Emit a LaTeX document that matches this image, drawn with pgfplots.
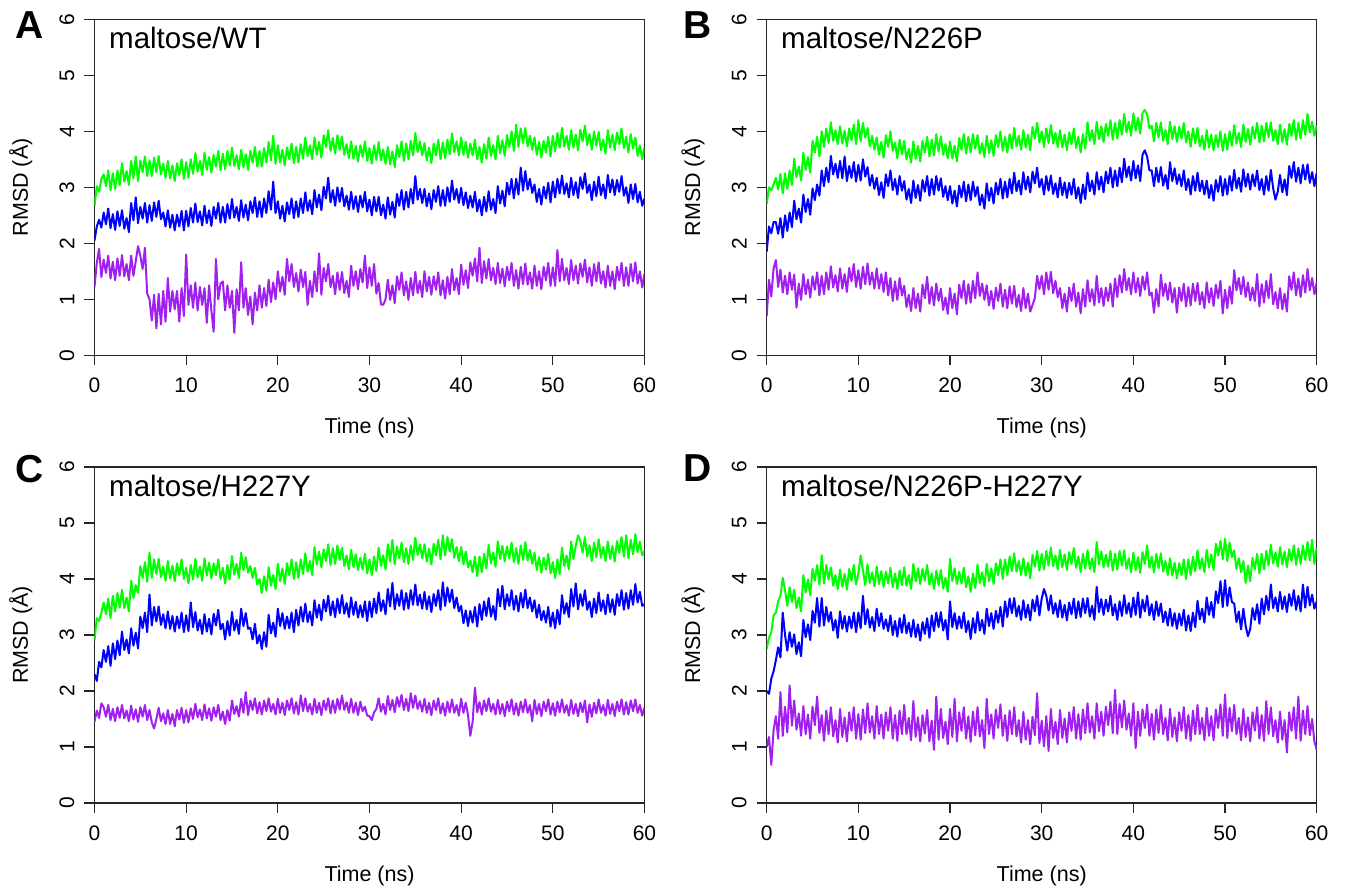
\documentclass[border=0pt]{standalone}
\usepackage{pgfplots}
\pgfplotsset{compat=1.18}
\usepackage{fontspec}
\setmainfont{Liberation Sans}

\definecolor{rgreen}{HTML}{00FF00}
\definecolor{rblue}{HTML}{0000FF}
\definecolor{rpurple}{HTML}{A020F0}

\pgfplotsset{
  rmsd/.style={
    width=550pt, height=336pt, scale only axis,
    xmin=0, xmax=60, ymin=0, ymax=6,
    xtick={0,10,...,60}, ytick={0,1,...,6},
    tick align=outside, major tick length=10pt,
    axis line style={line width=1.1pt, black!85},
    every tick/.style={line width=1.1pt, black!85},
    xtick pos=bottom, ytick pos=left,
    /pgf/number format/assume math mode=true,
    ticklabel style={font=\fontsize{21}{25}\selectfont, inner sep=0pt},
    xticklabel style={anchor=north, yshift=-12.5pt},
    yticklabel style={rotate=90, anchor=south},
    yticklabel shift=10pt,
    label style={font=\fontsize{21.5}{25}\selectfont},
    xlabel={Time (ns)}, ylabel={RMSD (Å)},
    xlabel style={at={(axis description cs:0.5,-0.234)}, anchor=base},
    ylabel style={at={(axis description cs:-0.121,0.5)}, rotate=0, anchor=base},
    every axis plot/.append style={line width=2pt, line join=round, no marks},
  },
  gr/.style={color=rgreen},
  bl/.style={color=rblue},
  pu/.style={color=rpurple},
}

\begin{document}
\begin{tikzpicture}
\path[use as bounding box] (0pt,0pt) rectangle (1345pt,886pt);

% ---------------- A: maltose/WT ----------------
\begin{axis}[rmsd, at={(94.5pt,530.7pt)}, anchor=south west]
\addplot[gr] table[x expr=\coordindex/4, y index=0, header=false, row sep=\\] {
2.66\\3.02\\2.92\\3.15\\ 3.23\\3.02\\3.30\\2.95\\ 3.25\\2.97\\3.30\\3.04\\ 3.43\\3.10\\3.29\\3.04\\
3.47\\3.16\\3.55\\3.11\\ 3.48\\3.27\\3.55\\3.20\\ 3.48\\3.20\\3.53\\3.27\\ 3.56\\3.23\\3.42\\3.17\\
3.47\\3.16\\3.39\\3.11\\ 3.43\\3.22\\3.50\\3.15\\ 3.45\\3.17\\3.50\\3.24\\ 3.61\\3.28\\3.47\\3.22\\
3.62\\3.31\\3.54\\3.26\\ 3.58\\3.37\\3.65\\3.30\\ 3.60\\3.32\\3.65\\3.39\\ 3.71\\3.38\\3.57\\3.32\\
3.67\\3.36\\3.59\\3.31\\ 3.65\\3.44\\3.72\\3.37\\ 3.65\\3.37\\3.70\\3.44\\ 3.81\\3.48\\3.92\\3.42\\
3.75\\3.44\\3.67\\3.39\\ 3.71\\3.50\\3.78\\3.43\\ 3.72\\3.44\\3.77\\3.51\\ 3.89\\3.56\\3.75\\3.50\\
3.89\\3.58\\3.81\\3.53\\ 3.93\\3.72\\4.02\\3.65\\ 3.88\\3.60\\3.93\\3.67\\ 3.91\\3.58\\3.77\\3.52\\
3.82\\3.51\\3.74\\3.46\\ 3.75\\3.54\\3.82\\3.47\\ 3.70\\3.42\\3.75\\3.49\\ 3.81\\3.48\\3.67\\3.42\\
3.72\\3.41\\3.64\\3.36\\ 3.75\\3.54\\3.82\\3.47\\ 3.78\\3.50\\3.83\\3.57\\ 3.97\\3.63\\3.82\\3.57\\
3.79\\3.48\\3.71\\3.43\\ 3.78\\3.57\\3.85\\3.50\\ 3.80\\3.52\\3.85\\3.59\\ 3.96\\3.63\\3.82\\3.57\\
3.89\\3.58\\3.81\\3.53\\ 3.78\\3.57\\3.85\\3.50\\ 3.72\\3.44\\3.77\\3.51\\ 3.89\\3.56\\3.75\\3.50\\
3.92\\3.61\\3.84\\3.56\\ 3.93\\3.72\\4.00\\3.65\\ 4.12\\3.72\\4.05\\3.79\\ 4.06\\3.73\\3.92\\3.67\\
3.89\\3.58\\3.81\\3.53\\ 3.83\\3.62\\3.90\\3.55\\ 3.92\\3.64\\3.97\\3.71\\ 4.06\\3.73\\3.92\\3.67\\
4.02\\3.71\\3.94\\3.66\\ 4.03\\3.82\\4.10\\3.75\\ 3.95\\3.67\\4.00\\3.74\\ 3.99\\3.66\\3.85\\3.60\\
4.02\\3.71\\3.94\\3.66\\ 3.98\\3.77\\4.05\\3.70\\ 3.90\\3.62\\3.95\\3.69\\ 3.89\\3.56\\3.75\\3.50\\
3.72\\
};
\addplot[bl] table[x expr=\coordindex/4, y index=0, header=false, row sep=\\] {
2.05\\2.30\\2.42\\2.28\\ 2.55\\2.34\\2.62\\2.27\\ 2.52\\2.24\\2.57\\2.31\\ 2.59\\2.26\\2.45\\2.20\\
2.72\\2.41\\2.82\\2.36\\ 2.65\\2.44\\2.72\\2.37\\ 2.68\\2.40\\2.73\\2.47\\ 2.76\\2.43\\2.55\\2.30\\
2.59\\2.28\\2.51\\2.23\\ 2.51\\2.30\\2.58\\2.23\\ 2.58\\2.30\\2.63\\2.37\\ 2.71\\2.38\\2.57\\2.32\\
2.67\\2.36\\2.59\\2.31\\ 2.65\\2.44\\2.72\\2.37\\ 2.65\\2.37\\2.70\\2.44\\ 2.79\\2.46\\2.65\\2.40\\
2.77\\2.46\\2.69\\2.41\\ 2.75\\2.54\\2.82\\2.47\\ 2.75\\2.47\\2.80\\2.54\\ 2.93\\2.60\\3.10\\2.54\\
2.75\\2.44\\2.67\\2.39\\ 2.73\\2.52\\2.80\\2.45\\ 2.75\\2.47\\2.80\\2.54\\ 2.91\\2.58\\2.77\\2.52\\
2.95\\2.64\\2.87\\2.59\\ 3.01\\2.80\\3.17\\2.73\\ 2.95\\2.67\\3.00\\2.74\\ 2.99\\2.66\\2.85\\2.60\\
2.92\\2.61\\2.84\\2.56\\ 2.85\\2.64\\2.92\\2.57\\ 2.78\\2.50\\2.83\\2.57\\ 2.83\\2.50\\2.69\\2.44\\
2.82\\2.51\\2.74\\2.46\\ 2.88\\2.67\\2.95\\2.60\\ 2.92\\2.64\\2.97\\2.71\\ 3.20\\2.78\\2.97\\2.72\\
2.97\\2.66\\2.89\\2.61\\ 2.95\\2.74\\3.02\\2.67\\ 2.95\\2.67\\3.00\\2.74\\ 3.12\\2.78\\2.97\\2.72\\
2.99\\2.68\\2.91\\2.63\\ 2.85\\2.64\\2.92\\2.57\\ 2.78\\2.50\\2.83\\2.57\\ 2.93\\2.60\\2.79\\2.54\\
3.02\\2.71\\2.94\\2.66\\ 3.08\\2.87\\3.15\\2.80\\ 3.15\\2.87\\3.35\\2.94\\ 3.29\\2.96\\3.15\\2.90\\
3.05\\2.74\\2.97\\2.69\\ 3.01\\2.80\\3.08\\2.73\\ 3.10\\2.82\\3.15\\2.89\\ 3.21\\2.88\\3.07\\2.82\\
3.17\\2.86\\3.09\\2.81\\ 3.18\\2.97\\3.25\\2.90\\ 3.05\\2.77\\3.10\\2.84\\ 3.19\\2.86\\3.05\\2.80\\
3.22\\2.91\\3.14\\2.86\\ 3.13\\2.92\\3.20\\2.85\\ 3.00\\2.72\\3.05\\2.79\\ 3.06\\2.73\\2.92\\2.67\\
2.80\\
};
\addplot[pu] table[x expr=\coordindex/4, y index=0, header=false, row sep=\\] {
1.22\\1.65\\1.90\\1.40\\ 1.71\\1.47\\1.78\\1.37\\ 1.67\\1.34\\1.73\\1.42\\ 1.79\\1.41\\1.63\\1.34\\
1.78\\1.42\\1.68\\1.95\\ 1.78\\1.54\\1.92\\1.10\\ 1.00\\0.62\\1.08\\0.48\\ 1.10\\0.55\\1.15\\0.60\\
1.38\\0.78\\1.15\\0.82\\ 1.15\\0.60\\1.20\\0.70\\ 1.80\\0.90\\1.25\\0.85\\ 1.30\\0.80\\1.22\\0.90\\
1.20\\0.58\\1.25\\0.80\\ 0.42\\1.72\\1.00\\1.28\\ 1.32\\0.80\\1.25\\0.85\\ 1.15\\0.40\\1.18\\0.80\\
1.66\\0.85\\1.20\\0.72\\ 1.05\\0.55\\1.12\\0.80\\ 1.25\\0.85\\1.20\\0.88\\ 1.35\\0.95\\1.30\\1.00\\
1.50\\1.14\\1.40\\1.08\\ 1.72\\1.32\\1.63\\1.22\\ 1.47\\1.14\\1.53\\1.22\\ 1.49\\0.90\\1.33\\1.04\\
1.50\\1.14\\1.82\\1.08\\ 1.56\\1.32\\1.63\\1.22\\ 1.42\\1.09\\1.48\\1.17\\ 1.49\\1.11\\1.33\\1.04\\
1.60\\1.24\\1.50\\1.18\\ 1.54\\1.30\\1.78\\1.20\\ 1.57\\1.24\\1.63\\1.10\\ 1.29\\0.91\\0.90\\1.00\\
1.35\\0.99\\1.25\\0.93\\ 1.41\\1.17\\1.48\\1.07\\ 1.32\\0.99\\1.38\\1.07\\ 1.49\\1.11\\1.33\\1.04\\
1.50\\1.14\\1.40\\1.08\\ 1.41\\1.17\\1.48\\1.07\\ 1.34\\1.01\\1.40\\1.09\\ 1.54\\1.16\\1.38\\1.09\\
1.62\\1.26\\1.52\\1.20\\ 1.66\\1.42\\1.73\\1.32\\ 1.92\\1.29\\1.68\\1.37\\ 1.72\\1.34\\1.56\\1.27\\
1.65\\1.29\\1.55\\1.23\\ 1.58\\1.34\\1.65\\1.24\\ 1.52\\1.19\\1.58\\1.27\\ 1.64\\1.26\\1.48\\1.19\\
1.60\\1.24\\1.50\\1.18\\ 1.58\\1.34\\1.65\\1.24\\ 1.57\\1.24\\1.88\\1.32\\ 1.72\\1.34\\1.56\\1.27\\
1.70\\1.34\\1.60\\1.28\\ 1.64\\1.40\\1.71\\1.30\\ 1.57\\1.24\\1.63\\1.32\\ 1.66\\1.28\\1.50\\1.21\\
1.60\\1.24\\1.50\\1.18\\ 1.58\\1.34\\1.65\\1.24\\ 1.57\\1.24\\1.63\\1.32\\ 1.66\\1.28\\1.50\\1.21\\
1.45\\
};
\end{axis}

% ---------------- B: maltose/N226P ----------------
\begin{axis}[rmsd, at={(766.7pt,530.7pt)}, anchor=south west]
\addplot[gr] table[x expr=\coordindex/4, y index=0, header=false, row sep=\\] {
2.70\\3.00\\2.95\\3.05\\ 3.17\\2.96\\3.24\\2.89\\ 3.25\\2.97\\3.30\\3.04\\ 3.51\\3.18\\3.37\\3.12\\
3.62\\3.31\\3.54\\3.26\\ 3.83\\3.62\\3.90\\3.55\\ 4.00\\3.72\\4.05\\3.79\\ 4.16\\3.83\\4.02\\3.77\\
4.09\\3.78\\4.01\\3.73\\ 4.05\\3.84\\4.12\\3.77\\ 4.20\\3.82\\4.15\\3.89\\ 4.06\\3.73\\3.92\\3.67\\
3.89\\3.58\\3.81\\3.53\\ 3.93\\3.72\\4.00\\3.65\\ 3.80\\3.52\\3.85\\3.59\\ 3.83\\3.50\\3.69\\3.44\\
3.82\\3.51\\3.74\\3.46\\ 3.83\\3.62\\3.90\\3.55\\ 3.85\\3.57\\3.95\\3.64\\ 3.91\\3.58\\3.77\\3.52\\
3.82\\3.51\\3.74\\3.46\\ 3.88\\3.67\\3.95\\3.60\\ 3.90\\3.62\\3.95\\3.69\\ 3.93\\3.60\\3.79\\3.54\\
3.92\\3.61\\3.84\\3.56\\ 3.93\\3.72\\4.00\\3.65\\ 3.90\\3.62\\3.95\\3.69\\ 4.06\\3.73\\3.92\\3.67\\
4.02\\3.71\\3.94\\3.66\\ 4.08\\3.87\\4.15\\3.80\\ 4.00\\3.72\\4.05\\3.79\\ 4.11\\3.78\\3.97\\3.72\\
4.02\\3.71\\3.94\\3.66\\ 3.98\\3.77\\4.05\\3.70\\ 3.90\\3.62\\3.95\\3.69\\ 4.16\\3.83\\4.02\\3.77\\
4.17\\3.86\\4.09\\3.81\\ 4.13\\3.92\\4.20\\3.85\\ 4.15\\3.87\\4.20\\3.94\\ 4.31\\3.98\\4.17\\3.92\\
4.32\\4.01\\4.24\\3.96\\ 4.33\\4.38\\4.30\\4.05\\ 4.10\\3.82\\4.15\\3.89\\ 4.16\\3.83\\4.02\\3.77\\
4.17\\3.86\\4.09\\3.81\\ 4.08\\3.87\\4.15\\3.80\\ 4.00\\3.72\\4.05\\3.79\\ 4.06\\3.73\\3.92\\3.67\\
4.02\\3.71\\3.94\\3.66\\ 3.93\\3.72\\4.00\\3.65\\ 3.95\\3.67\\4.00\\3.74\\ 4.11\\3.78\\3.97\\3.72\\
4.12\\3.81\\4.04\\3.76\\ 4.08\\3.87\\4.15\\3.80\\ 4.10\\3.82\\4.15\\3.89\\ 4.16\\3.83\\4.02\\3.77\\
4.12\\3.81\\4.04\\3.76\\ 4.13\\3.92\\4.20\\3.85\\ 4.15\\3.87\\4.20\\3.94\\ 4.31\\3.98\\4.17\\3.92\\
4.10\\
};
\addplot[bl] table[x expr=\coordindex/4, y index=0, header=false, row sep=\\] {
1.85\\2.30\\2.18\\2.38\\ 2.38\\2.17\\2.45\\2.10\\ 2.50\\2.22\\2.55\\2.29\\ 2.76\\2.43\\2.62\\2.37\\
2.87\\2.56\\2.79\\2.51\\ 2.98\\2.77\\3.05\\2.85\\ 3.30\\3.02\\3.35\\3.09\\ 3.56\\3.23\\3.42\\3.17\\
3.47\\3.16\\3.55\\3.11\\ 3.38\\3.17\\3.45\\3.10\\ 3.40\\3.12\\3.50\\3.19\\ 3.36\\3.03\\3.22\\2.97\\
3.17\\2.86\\3.09\\2.81\\ 3.23\\3.02\\3.30\\2.95\\ 3.15\\2.87\\3.20\\2.94\\ 3.11\\2.78\\2.97\\2.72\\
3.12\\2.81\\3.04\\2.76\\ 3.13\\2.92\\3.20\\2.85\\ 3.15\\2.87\\3.20\\2.94\\ 3.16\\2.83\\3.02\\2.77\\
3.02\\2.71\\2.94\\2.66\\ 3.03\\2.82\\3.10\\2.75\\ 3.05\\2.77\\3.10\\2.84\\ 3.01\\2.68\\2.87\\2.62\\
3.07\\2.76\\2.99\\2.71\\ 3.08\\2.87\\3.15\\2.80\\ 3.10\\2.82\\3.15\\2.89\\ 3.26\\2.93\\3.12\\2.87\\
3.27\\2.96\\3.19\\2.91\\ 3.28\\3.07\\3.35\\3.00\\ 3.15\\2.87\\3.20\\2.94\\ 3.21\\2.88\\3.07\\2.82\\
3.17\\2.86\\3.09\\2.81\\ 3.08\\2.87\\3.15\\2.80\\ 3.00\\2.72\\3.05\\2.79\\ 3.26\\2.93\\3.12\\2.87\\
3.27\\2.96\\3.19\\2.91\\ 3.28\\3.07\\3.35\\3.00\\ 3.30\\3.02\\3.35\\3.09\\ 3.51\\3.18\\3.37\\3.12\\
3.47\\3.16\\3.39\\3.11\\ 3.58\\3.66\\3.55\\3.30\\ 3.30\\3.02\\3.35\\3.09\\ 3.36\\3.03\\3.22\\2.97\\
3.45\\3.11\\3.34\\3.06\\ 3.23\\3.02\\3.30\\2.95\\ 3.15\\2.87\\3.20\\2.94\\ 3.26\\2.93\\3.12\\2.87\\
3.12\\2.81\\3.04\\2.76\\ 3.13\\2.92\\3.20\\2.85\\ 3.15\\2.87\\3.20\\2.94\\ 3.31\\2.98\\3.17\\2.92\\
3.32\\3.01\\3.24\\2.96\\ 3.23\\3.02\\3.30\\2.95\\ 3.15\\2.87\\3.20\\2.94\\ 3.31\\2.98\\2.78\\2.92\\
3.22\\2.91\\3.14\\2.86\\ 3.38\\3.17\\3.45\\3.10\\ 3.35\\3.07\\3.40\\3.14\\ 3.41\\3.08\\3.27\\3.02\\
3.25\\
};
\addplot[pu] table[x expr=\coordindex/4, y index=0, header=false, row sep=\\] {
0.70\\1.35\\1.05\\1.55\\ 1.70\\1.22\\1.53\\1.12\\ 1.42\\1.09\\1.48\\1.17\\ 1.44\\0.85\\1.28\\0.99\\
1.45\\1.09\\1.35\\1.03\\ 1.41\\1.17\\1.48\\1.07\\ 1.42\\1.09\\1.48\\1.17\\ 1.59\\1.21\\1.43\\1.14\\
1.55\\1.19\\1.45\\1.13\\ 1.56\\1.32\\1.63\\1.22\\ 1.52\\1.19\\1.58\\1.27\\ 1.64\\1.26\\1.48\\1.19\\
1.55\\1.19\\1.45\\1.13\\ 1.48\\1.07\\1.38\\0.97\\ 1.32\\0.99\\1.38\\1.07\\ 1.24\\0.86\\1.08\\0.79\\
1.20\\0.84\\1.10\\0.78\\ 1.26\\1.02\\1.40\\0.92\\ 1.22\\0.89\\1.28\\0.97\\ 1.19\\0.81\\1.03\\0.74\\
1.20\\0.84\\1.10\\0.73\\ 1.26\\1.02\\1.33\\0.92\\ 1.27\\0.94\\1.33\\1.02\\ 1.48\\1.06\\1.28\\0.99\\
1.25\\0.89\\1.15\\0.83\\ 1.21\\0.97\\1.28\\0.87\\ 1.17\\0.84\\1.23\\0.92\\ 1.24\\0.86\\1.08\\0.79\\
1.20\\0.84\\1.10\\0.78\\ 0.90\\1.02\\1.42\\1.18\\ 1.42\\1.09\\1.48\\1.17\\ 1.49\\1.11\\1.33\\1.04\\
1.20\\0.84\\1.10\\0.78\\ 1.21\\0.97\\1.28\\0.87\\ 1.12\\0.75\\1.18\\0.87\\ 1.34\\0.96\\1.18\\0.89\\
1.42\\0.94\\1.20\\0.88\\ 1.21\\0.97\\1.28\\0.87\\ 1.37\\1.04\\1.43\\1.12\\ 1.54\\1.16\\1.38\\1.09\\
1.48\\1.12\\1.38\\1.06\\ 1.41\\1.17\\1.48\\1.07\\ 1.12\\0.76\\1.18\\0.87\\ 1.44\\1.06\\1.28\\0.99\\
1.30\\0.94\\1.20\\0.76\\ 1.21\\0.97\\1.28\\0.87\\ 1.22\\0.89\\1.28\\0.97\\ 1.29\\0.91\\1.13\\0.84\\
1.30\\0.94\\1.20\\0.88\\ 1.26\\1.02\\1.33\\0.75\\ 1.17\\0.84\\1.23\\0.92\\ 1.52\\1.16\\1.38\\1.09\\
1.40\\1.04\\1.30\\0.98\\ 1.21\\0.97\\1.45\\0.87\\ 1.27\\0.94\\1.33\\1.02\\ 1.45\\0.91\\1.13\\0.84\\
1.20\\0.82\\1.10\\0.78\\ 1.41\\1.17\\1.48\\1.07\\ 1.37\\1.04\\1.43\\1.12\\ 1.54\\1.16\\1.38\\1.09\\
1.30\\
};
\end{axis}

% ---------------- C: maltose/H227Y ----------------
\begin{axis}[rmsd, at={(94.5pt,83pt)}, anchor=south west]
\addplot[gr] table[x expr=\coordindex/4, y index=0, header=false, row sep=\\] {
2.90\\3.30\\3.25\\3.40\\ 3.58\\3.37\\3.65\\3.30\\ 3.70\\3.42\\3.75\\3.49\\ 3.81\\3.48\\3.67\\3.42\\
3.97\\3.66\\3.89\\3.75\\ 4.23\\4.02\\4.30\\3.95\\ 4.47\\4.02\\4.35\\4.09\\ 4.36\\4.03\\4.22\\3.97\\
4.32\\4.01\\4.24\\3.96\\ 4.28\\4.07\\4.35\\4.00\\ 4.20\\3.92\\4.25\\3.99\\ 4.36\\4.03\\4.22\\3.97\\
4.37\\4.06\\4.29\\4.01\\ 4.28\\4.07\\4.35\\4.00\\ 4.20\\3.92\\4.25\\3.99\\ 4.41\\4.08\\4.27\\4.02\\
4.47\\4.16\\4.39\\4.11\\ 4.23\\4.02\\4.20\\3.90\\ 4.00\\3.75\\4.05\\3.79\\ 4.21\\3.88\\4.07\\3.82\\
4.27\\3.96\\4.19\\3.91\\ 4.28\\4.07\\4.35\\4.00\\ 4.30\\4.02\\4.35\\4.09\\ 4.46\\4.13\\4.32\\4.07\\
4.57\\4.26\\4.49\\4.21\\ 4.53\\4.32\\4.62\\4.25\\ 4.55\\4.27\\4.60\\4.34\\ 4.56\\4.23\\4.42\\4.17\\
4.52\\4.21\\4.44\\4.16\\ 4.38\\4.17\\4.45\\4.10\\ 4.35\\4.07\\4.40\\4.14\\ 4.56\\4.23\\4.42\\4.17\\
4.62\\4.31\\4.70\\4.26\\ 4.58\\4.37\\4.65\\4.30\\ 4.55\\4.27\\4.60\\4.34\\ 4.74\\4.43\\4.62\\4.37\\
4.62\\4.31\\4.54\\4.26\\ 4.63\\4.42\\4.70\\4.35\\ 4.78\\4.42\\4.75\\4.49\\ 4.71\\4.38\\4.57\\4.32\\
4.57\\4.26\\4.49\\4.21\\ 4.33\\4.12\\4.40\\4.05\\ 4.40\\4.12\\4.45\\4.19\\ 4.61\\4.28\\4.47\\4.22\\
4.67\\4.36\\4.59\\4.31\\ 4.58\\4.37\\4.65\\4.30\\ 4.55\\4.27\\4.60\\4.34\\ 4.66\\4.33\\4.52\\4.27\\
4.47\\4.16\\4.39\\4.11\\ 4.38\\4.17\\4.45\\4.10\\ 4.30\\4.02\\4.35\\4.09\\ 4.56\\4.23\\4.42\\4.17\\
4.67\\4.36\\4.59\\4.78\\ 4.68\\4.47\\4.75\\4.40\\ 4.60\\4.32\\4.65\\4.39\\ 4.71\\4.38\\4.57\\4.32\\
4.67\\4.36\\4.59\\4.31\\ 4.68\\4.47\\4.75\\4.40\\ 4.78\\4.37\\4.70\\4.44\\ 4.80\\4.48\\4.67\\4.42\\
4.50\\
};
\addplot[bl] table[x expr=\coordindex/4, y index=0, header=false, row sep=\\] {
2.30\\2.18\\2.52\\2.42\\ 2.73\\2.52\\2.80\\2.45\\ 2.85\\2.57\\2.90\\2.64\\ 3.06\\2.73\\2.92\\2.67\\
3.12\\2.81\\3.04\\2.76\\ 3.33\\3.12\\3.40\\3.05\\ 3.72\\3.17\\3.50\\3.24\\ 3.51\\3.18\\3.37\\3.12\\
3.42\\3.11\\3.34\\3.06\\ 3.33\\3.12\\3.40\\3.05\\ 3.35\\3.07\\3.58\\3.14\\ 3.41\\3.08\\3.27\\3.02\\
3.37\\3.06\\3.29\\3.01\\ 3.38\\3.17\\3.45\\3.10\\ 3.20\\2.92\\3.25\\2.99\\ 3.41\\3.08\\3.27\\3.02\\
3.47\\3.16\\3.39\\3.11\\ 3.13\\2.92\\3.20\\2.85\\ 3.00\\2.75\\3.05\\2.79\\ 3.36\\3.03\\3.22\\2.97\\
3.47\\3.16\\3.39\\3.11\\ 3.33\\3.12\\3.40\\3.05\\ 3.45\\3.17\\3.50\\3.24\\ 3.56\\3.23\\3.42\\3.17\\
3.62\\3.31\\3.54\\3.26\\ 3.63\\3.42\\3.70\\3.35\\ 3.60\\3.32\\3.65\\3.39\\ 3.71\\3.38\\3.57\\3.32\\
3.67\\3.36\\3.59\\3.31\\ 3.53\\3.32\\3.60\\3.25\\ 3.60\\3.32\\3.65\\3.39\\ 3.76\\3.43\\3.62\\3.37\\
3.82\\3.51\\3.93\\3.46\\ 3.73\\3.52\\3.80\\3.45\\ 3.75\\3.47\\3.80\\3.54\\ 3.90\\3.53\\3.72\\3.47\\
3.77\\3.46\\3.69\\3.41\\ 3.73\\3.52\\3.80\\3.45\\ 3.94\\3.52\\3.85\\3.59\\ 3.81\\3.48\\3.67\\3.42\\
3.52\\3.21\\3.44\\3.16\\ 3.43\\3.22\\3.50\\3.15\\ 3.55\\3.27\\3.60\\3.34\\ 3.66\\3.33\\3.52\\3.27\\
3.82\\3.51\\3.88\\3.46\\ 3.73\\3.52\\3.80\\3.45\\ 3.70\\3.42\\3.75\\3.49\\ 3.81\\3.48\\3.67\\3.42\\
3.62\\3.31\\3.54\\3.26\\ 3.43\\3.22\\3.50\\3.15\\ 3.40\\3.12\\3.45\\3.19\\ 3.71\\3.38\\3.57\\3.32\\
3.82\\3.51\\3.92\\3.46\\ 3.73\\3.52\\3.80\\3.45\\ 3.60\\3.32\\3.65\\3.39\\ 3.76\\3.43\\3.62\\3.37\\
3.72\\3.41\\3.64\\3.36\\ 3.73\\3.52\\3.80\\3.45\\ 3.75\\3.47\\3.80\\3.54\\ 3.91\\3.58\\3.77\\3.52\\
3.55\\
};
\addplot[pu] table[x expr=\coordindex/4, y index=0, header=false, row sep=\\] {
1.45\\1.65\\1.52\\1.78\\ 1.71\\1.54\\1.75\\1.48\\ 1.68\\1.46\\1.71\\1.52\\ 1.75\\1.51\\1.65\\1.46\\
1.74\\1.49\\1.67\\1.45\\ 1.71\\1.54\\1.75\\1.48\\ 1.66\\1.44\\1.33\\1.50\\ 1.70\\1.46\\1.60\\1.41\\
1.66\\1.41\\1.59\\1.37\\ 1.66\\1.49\\1.70\\1.43\\ 1.66\\1.44\\1.69\\1.50\\ 1.77\\1.53\\1.67\\1.48\\
1.76\\1.51\\1.69\\1.47\\ 1.71\\1.54\\1.75\\1.48\\ 1.63\\1.41\\1.66\\1.47\\ 1.83\\1.59\\1.73\\1.54\\
1.86\\1.61\\1.98\\1.57\\ 1.83\\1.66\\1.87\\1.60\\ 1.80\\1.58\\1.83\\1.64\\ 1.87\\1.63\\1.77\\1.58\\
1.86\\1.61\\1.79\\1.57\\ 1.83\\1.66\\1.87\\1.60\\ 1.80\\1.58\\1.92\\1.64\\ 1.87\\1.63\\1.77\\1.58\\
1.86\\1.61\\1.79\\1.57\\ 1.83\\1.66\\1.87\\1.60\\ 1.83\\1.61\\1.86\\1.67\\ 1.92\\1.66\\1.80\\1.61\\
1.86\\1.61\\1.79\\1.57\\ 1.81\\1.64\\1.72\\1.56\\ 1.55\\1.48\\1.62\\1.68\\ 1.87\\1.63\\1.77\\1.58\\
1.91\\1.66\\1.84\\1.62\\ 1.89\\1.72\\1.93\\1.66\\ 1.86\\1.64\\1.96\\1.70\\ 1.92\\1.68\\1.82\\1.63\\
1.86\\1.61\\1.79\\1.57\\ 1.83\\1.66\\1.87\\1.60\\ 1.78\\1.56\\1.81\\1.62\\ 1.85\\1.61\\1.75\\1.56\\
1.86\\1.61\\1.79\\1.57\\ 1.20\\1.45\\2.06\\1.62\\ 1.80\\1.58\\1.83\\1.64\\ 1.87\\1.63\\1.77\\1.58\\
1.84\\1.59\\1.77\\1.55\\ 1.81\\1.64\\1.85\\1.58\\ 1.78\\1.56\\1.81\\1.62\\ 1.85\\1.61\\1.75\\1.46\\
1.84\\1.59\\1.77\\1.55\\ 1.81\\1.64\\1.85\\1.58\\ 1.78\\1.56\\1.81\\1.62\\ 1.85\\1.61\\1.75\\1.56\\
1.84\\1.59\\1.77\\1.55\\ 1.79\\1.62\\1.83\\1.44\\ 1.76\\1.54\\1.79\\1.60\\ 1.85\\1.61\\1.75\\1.56\\
1.84\\1.59\\1.77\\1.55\\ 1.81\\1.64\\1.85\\1.58\\ 1.80\\1.58\\1.83\\1.64\\ 1.85\\1.61\\1.75\\1.56\\
1.70\\
};
\end{axis}

% ---------------- D: maltose/N226P-H227Y ----------------
\begin{axis}[rmsd, at={(766.7pt,83pt)}, anchor=south west]
\addplot[gr] table[x expr=\coordindex/4, y index=0, header=false, row sep=\\] {
2.75\\2.95\\3.05\\3.35\\ 3.40\\3.60\\3.70\\4.02\\ 3.80\\3.52\\3.85\\3.59\\ 3.81\\3.48\\3.67\\3.42\\
4.07\\3.76\\3.99\\3.71\\ 4.18\\3.97\\4.25\\3.90\\ 4.42\\3.92\\4.25\\3.99\\ 4.21\\3.88\\4.07\\3.82\\
4.17\\3.86\\4.09\\3.81\\ 4.18\\3.97\\4.25\\3.90\\ 4.10\\4.42\\4.15\\3.89\\ 4.26\\3.93\\4.12\\3.87\\
4.22\\3.91\\4.14\\3.86\\ 4.13\\3.92\\4.20\\3.85\\ 4.10\\3.82\\4.15\\3.89\\ 4.21\\3.88\\4.07\\3.82\\
4.27\\3.96\\4.19\\3.91\\ 4.18\\3.97\\4.25\\3.90\\ 4.10\\3.82\\4.15\\3.89\\ 4.16\\3.83\\4.02\\3.77\\
4.36\\3.96\\4.19\\3.91\\ 4.13\\3.92\\4.20\\3.85\\ 4.05\\3.77\\4.10\\3.84\\ 4.26\\3.93\\4.12\\3.87\\
4.27\\3.96\\4.19\\3.91\\ 4.28\\4.07\\4.35\\4.00\\ 4.35\\4.07\\4.40\\4.14\\ 4.46\\4.13\\4.32\\4.07\\
4.37\\4.06\\4.29\\4.01\\ 4.43\\4.22\\4.50\\4.15\\ 4.45\\4.17\\4.50\\4.24\\ 4.56\\4.23\\4.42\\4.17\\
4.52\\4.21\\4.44\\4.16\\ 4.48\\4.27\\4.55\\4.20\\ 4.40\\4.12\\4.45\\4.19\\ 4.51\\4.18\\4.37\\4.12\\
4.66\\4.26\\4.49\\4.21\\ 4.43\\4.22\\4.50\\4.15\\ 4.45\\4.17\\4.50\\4.24\\ 4.51\\4.18\\4.37\\4.12\\
4.47\\4.16\\4.39\\4.11\\ 4.48\\4.27\\4.60\\4.20\\ 4.40\\4.12\\4.45\\4.19\\ 4.46\\4.13\\4.32\\4.07\\
4.37\\4.06\\4.29\\4.01\\ 4.28\\4.07\\4.35\\4.00\\ 4.35\\4.07\\4.40\\4.14\\ 4.51\\4.18\\4.37\\4.12\\
4.52\\4.21\\4.44\\4.16\\ 4.63\\4.42\\4.68\\4.35\\ 4.72\\4.32\\4.65\\4.39\\ 4.51\\4.18\\4.37\\4.12\\
4.32\\3.93\\4.24\\3.96\\ 4.38\\4.17\\4.45\\4.10\\ 4.45\\4.17\\4.50\\4.24\\ 4.61\\4.28\\4.47\\4.22\\
4.57\\4.26\\4.49\\4.21\\ 4.53\\4.32\\4.60\\4.25\\ 4.55\\4.27\\4.60\\4.34\\ 4.66\\4.33\\4.70\\4.27\\
4.55\\
};
\addplot[bl] table[x expr=\coordindex/4, y index=0, header=false, row sep=\\] {
2.00\\1.95\\2.22\\2.35\\ 2.55\\2.78\\2.60\\3.40\\ 3.00\\2.72\\3.05\\2.79\\ 3.01\\2.66\\2.87\\2.62\\
3.27\\2.96\\3.19\\2.91\\ 3.43\\3.22\\3.66\\3.15\\ 3.66\\3.17\\3.50\\3.24\\ 3.41\\3.08\\3.27\\2.95\\
3.42\\3.11\\3.34\\3.06\\ 3.33\\3.12\\3.40\\3.05\\ 3.40\\3.12\\3.70\\3.19\\ 3.46\\3.13\\3.32\\3.07\\
3.47\\3.16\\3.39\\3.11\\ 3.28\\3.07\\3.35\\3.00\\ 3.25\\2.97\\3.30\\3.04\\ 3.36\\3.03\\3.22\\2.97\\
3.27\\2.96\\3.19\\2.90\\ 3.23\\3.02\\3.30\\2.95\\ 3.35\\3.07\\3.40\\3.14\\ 3.41\\3.08\\3.27\\2.92\\
3.60\\3.14\\3.39\\3.11\\ 3.33\\3.12\\3.40\\3.05\\ 3.25\\2.93\\3.30\\3.04\\ 3.41\\3.08\\3.27\\3.02\\
3.47\\3.16\\3.39\\3.11\\ 3.43\\3.22\\3.50\\3.15\\ 3.60\\3.32\\3.65\\3.39\\ 3.66\\3.33\\3.52\\3.27\\
3.62\\3.31\\3.54\\3.26\\ 3.63\\3.42\\3.70\\3.35\\ 3.65\\3.82\\3.70\\3.44\\ 3.71\\3.38\\3.57\\3.32\\
3.62\\3.31\\3.54\\3.26\\ 3.58\\3.37\\3.65\\3.30\\ 3.60\\3.32\\3.65\\3.39\\ 3.66\\3.33\\3.52\\3.27\\
3.86\\3.41\\3.64\\3.36\\ 3.63\\3.42\\3.70\\3.35\\ 3.55\\3.27\\3.60\\3.34\\ 3.71\\3.38\\3.57\\3.32\\
3.67\\3.36\\3.76\\3.31\\ 3.63\\3.42\\3.70\\3.35\\ 3.55\\3.27\\3.60\\3.34\\ 3.56\\3.23\\3.42\\3.17\\
3.47\\3.16\\3.39\\3.11\\ 3.38\\3.17\\3.45\\3.08\\ 3.35\\3.07\\3.40\\3.14\\ 3.61\\3.28\\3.47\\3.22\\
3.67\\3.36\\3.59\\3.31\\ 3.78\\3.57\\3.96\\3.50\\ 3.98\\3.52\\3.85\\3.59\\ 3.56\\3.23\\3.42\\3.10\\
3.47\\3.16\\2.98\\3.11\\ 3.48\\3.27\\3.55\\3.20\\ 3.65\\3.37\\3.70\\3.44\\ 3.90\\3.48\\3.67\\3.42\\
3.77\\3.46\\3.69\\3.41\\ 3.73\\3.52\\3.80\\3.45\\ 3.70\\3.42\\3.90\\3.49\\ 3.86\\3.53\\3.72\\3.47\\
3.60\\
};
\addplot[pu] table[x expr=\coordindex/4, y index=0, header=false, row sep=\\] {
1.00\\1.18\\0.68\\1.30\\ 1.55\\1.15\\1.98\\1.20\\ 1.72\\1.26\\2.10\\1.38\\ 1.83\\1.31\\1.60\\1.20\\
1.73\\1.23\\1.58\\1.15\\ 1.72\\1.39\\1.90\\1.25\\ 1.57\\1.11\\1.65\\1.23\\ 1.71\\1.19\\1.48\\1.08\\
1.68\\1.18\\1.53\\1.10\\ 1.62\\1.29\\1.71\\1.15\\ 1.59\\1.13\\1.67\\1.25\\ 1.78\\1.26\\1.55\\1.15\\
1.73\\1.23\\1.58\\1.15\\ 1.62\\1.29\\1.71\\1.15\\ 1.57\\1.11\\1.65\\1.23\\ 1.75\\1.23\\1.52\\1.12\\
1.82\\1.18\\1.53\\1.10\\ 1.57\\1.24\\1.66\\1.10\\ 1.47\\0.95\\1.90\\1.13\\ 1.68\\1.16\\1.45\\1.05\\
1.68\\1.18\\1.86\\1.10\\ 1.62\\1.29\\1.71\\1.15\\ 1.55\\1.09\\1.63\\1.21\\ 1.71\\1.19\\1.48\\0.98\\
1.86\\1.23\\1.58\\1.15\\ 1.67\\1.34\\1.76\\1.20\\ 1.57\\1.11\\1.65\\1.23\\ 1.71\\1.19\\1.48\\1.08\\
1.63\\1.13\\1.48\\1.05\\ 1.54\\1.21\\1.96\\1.07\\ 1.47\\1.01\\1.55\\0.93\\ 1.68\\1.16\\1.45\\1.05\\
1.66\\1.16\\1.51\\1.08\\ 1.62\\1.29\\1.71\\1.15\\ 1.59\\1.13\\1.67\\1.25\\ 1.78\\1.26\\1.55\\1.15\\
1.78\\1.28\\1.63\\1.20\\ 1.72\\1.39\\1.81\\1.25\\ 2.02\\1.23\\1.77\\1.35\\ 1.83\\1.31\\1.60\\1.20\\
1.78\\0.98\\1.63\\1.20\\ 1.67\\1.34\\1.76\\1.20\\ 1.59\\1.13\\1.67\\1.25\\ 1.75\\1.23\\1.52\\1.12\\
1.68\\1.18\\1.53\\1.10\\ 1.62\\1.29\\1.71\\1.15\\ 1.57\\1.11\\1.65\\1.23\\ 1.75\\1.23\\1.52\\1.12\\
1.70\\1.20\\1.55\\1.12\\ 1.67\\1.34\\1.76\\1.20\\ 1.94\\1.16\\1.70\\1.28\\ 1.75\\1.23\\1.52\\1.12\\
1.68\\1.18\\1.53\\1.10\\ 1.62\\1.29\\1.71\\1.15\\ 1.57\\1.11\\1.82\\1.23\\ 1.71\\1.19\\1.48\\1.08\\
1.63\\1.13\\1.48\\0.90\\ 1.62\\1.29\\1.71\\1.15\\ 1.90\\1.11\\1.65\\1.23\\ 1.73\\1.21\\1.50\\1.10\\
0.95\\
};
\end{axis}

% panel letters and titles
\node[anchor=base west, inner sep=0pt, font=\fontsize{39}{39}\selectfont\bfseries] at (15pt,847pt) {A};
\node[anchor=base west, inner sep=0pt, font=\fontsize{39}{39}\selectfont\bfseries] at (683pt,847pt) {B};
\node[anchor=base west, inner sep=0pt, font=\fontsize{39}{39}\selectfont\bfseries] at (15pt,403pt) {C};
\node[anchor=base west, inner sep=0pt, font=\fontsize{39}{39}\selectfont\bfseries] at (683pt,404pt) {D};
\node[anchor=base west, inner sep=0pt, font=\fontsize{29.5}{30}\selectfont] at (109pt,837pt) {maltose/WT};
\node[anchor=base west, inner sep=0pt, font=\fontsize{29.5}{30}\selectfont] at (781pt,837pt) {maltose/N226P};
\node[anchor=base west, inner sep=0pt, font=\fontsize{29.5}{30}\selectfont] at (109pt,389.3pt) {maltose/H227Y};
\node[anchor=base west, inner sep=0pt, font=\fontsize{29.5}{30}\selectfont] at (781pt,389.3pt) {maltose/N226P-H227Y};
\end{tikzpicture}
\end{document}
